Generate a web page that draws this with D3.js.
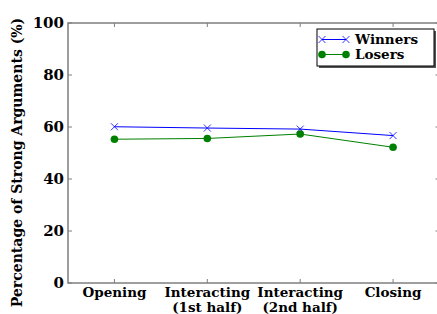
<!DOCTYPE html>
<html><head><meta charset="utf-8">
<script src="https://cdn.jsdelivr.net/npm/d3@7"></script>
<style>body{margin:0;background:#fff}svg{display:block}text{font-family:"DejaVu Serif",serif;font-weight:bold;fill:#000}</style>
</head><body><svg id="c" width="437" height="314"></svg>
<script>
const categories = ["Opening", "Interacting\n(1st half)", "Interacting\n(2nd half)", "Closing"];
const winners = [60.1, 59.6, 59.2, 56.7];
const losers = [55.3, 55.6, 57.3, 52.2];
const yTicks = [0, 20, 40, 60, 80, 100];
const seriesNames = ["Winners", "Losers"];

const svg = d3.select("#c");
const m = {left: 68, top: 23, right: 439.5, bottom: 283};
const x = d3.scaleLinear().domain([-0.5, 3.5]).range([m.left, m.right]);
const y = d3.scaleLinear().domain([0, 100]).range([m.bottom, m.top]);
const axisCol = "#7f7f7f";

svg.append("rect").attr("x", m.left).attr("y", m.top).attr("width", m.right - m.left).attr("height", m.bottom - m.top)
  .attr("fill", "none").attr("stroke", axisCol).attr("stroke-width", 1.5);

const tl = 4;
yTicks.forEach(t => {
  svg.append("line").attr("x1", m.left).attr("x2", m.left + tl).attr("y1", y(t)).attr("y2", y(t)).attr("stroke", axisCol);
  svg.append("line").attr("x1", m.right).attr("x2", m.right - tl).attr("y1", y(t)).attr("y2", y(t)).attr("stroke", axisCol);
  svg.append("text").attr("x", m.left - 4).attr("y", y(t)).attr("dy", "0.36em").attr("text-anchor", "end")
    .attr("font-size", 15).text(t);
});
categories.forEach((c, i) => {
  svg.append("line").attr("x1", x(i)).attr("x2", x(i)).attr("y1", m.bottom).attr("y2", m.bottom - tl).attr("stroke", axisCol);
  svg.append("line").attr("x1", x(i)).attr("x2", x(i)).attr("y1", m.top).attr("y2", m.top + tl).attr("stroke", axisCol);
  c.split("\n").forEach((l, k) => svg.append("text").attr("text-anchor", "middle").attr("font-size", 13.5)
    .attr("x", x(i)).attr("y", m.bottom + 14 + k * 14.5).text(l));
});

svg.append("text").attr("transform", `translate(22,${(m.top + 314) / 2 - 6}) rotate(-90)`)
  .attr("text-anchor", "middle").attr("font-size", 14).text("Percentage of Strong Arguments (%)");

const line = d3.line().x((d, i) => x(i)).y(d => y(d));
const blue = "#0000ff", green = "#008000";
svg.append("path").datum(winners).attr("d", line).attr("fill", "none").attr("stroke", blue).attr("stroke-width", 1);
svg.append("path").datum(losers).attr("d", line).attr("fill", "none").attr("stroke", green).attr("stroke-width", 1);

function xMark(g, cx, cy, s) {
  g.append("path").attr("d", `M${cx - s},${cy - s}L${cx + s},${cy + s}M${cx - s},${cy + s}L${cx + s},${cy - s}`)
    .attr("stroke", blue).attr("stroke-width", 1).attr("fill", "none").attr("opacity", 0.8);
}
winners.forEach((v, i) => xMark(svg, x(i), y(v), 3.5));
losers.forEach((v, i) => svg.append("circle").attr("cx", x(i)).attr("cy", y(v)).attr("r", 3.8).attr("fill", green));

const lg = svg.append("g");
const lx = 317, ly = 29, lw = 117, lh = 37;
lg.append("rect").attr("x", lx + 2).attr("y", ly + 2).attr("width", lw).attr("height", lh).attr("fill", "#555");
lg.append("rect").attr("x", lx).attr("y", ly).attr("width", lw).attr("height", lh).attr("fill", "#fff").attr("stroke", "#000").attr("stroke-width", 1);
const rows = [ly + 10.5, ly + 25.5];
lg.append("line").attr("x1", lx + 5).attr("x2", lx + 29).attr("y1", rows[0]).attr("y2", rows[0]).attr("stroke", blue);
xMark(lg, lx + 5, rows[0], 3.5); xMark(lg, lx + 29, rows[0], 3.5);
lg.append("line").attr("x1", lx + 5).attr("x2", lx + 29).attr("y1", rows[1]).attr("y2", rows[1]).attr("stroke", green);
lg.append("circle").attr("cx", lx + 5).attr("cy", rows[1]).attr("r", 3.8).attr("fill", green);
lg.append("circle").attr("cx", lx + 29).attr("cy", rows[1]).attr("r", 3.8).attr("fill", green);
seriesNames.forEach((n, k) => lg.append("text").attr("x", lx + 38).attr("y", rows[k]).attr("dy", "0.36em").attr("font-size", 13.5).text(n));
</script></body></html>
